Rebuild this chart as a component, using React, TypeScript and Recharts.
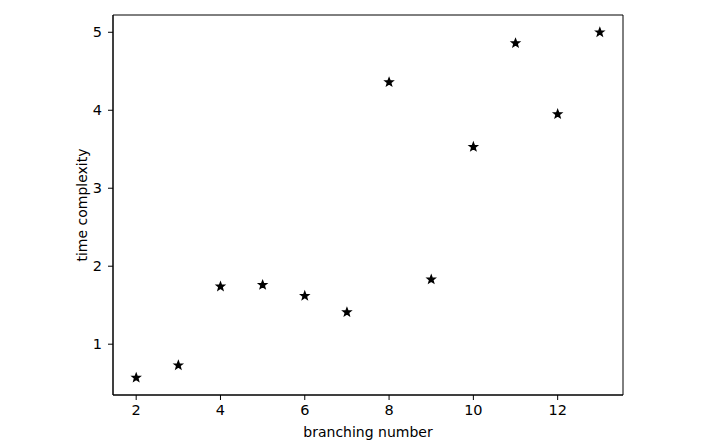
import React from 'react';
import { ScatterChart, Scatter, XAxis, YAxis, ReferenceArea } from 'recharts';

const branchingNumbers = [2, 3, 4, 5, 6, 7, 8, 9, 10, 11, 12, 13];
const timeComplexity = [0.57, 0.73, 1.74, 1.76, 1.62, 1.41, 4.36, 1.83, 3.53, 4.86, 3.95, 5.0];
const xTicks = [2, 4, 6, 8, 10, 12];
const yTicks = [1, 2, 3, 4, 5];
const xDomain = [1.45, 13.55];
const yDomain = [0.3485, 5.2215];

const data = branchingNumbers.map((x, i) => ({ x, y: timeComplexity[i] }));

const FONT = '"DejaVu Sans", sans-serif';

const Star = (props: any) => {
  const { cx, cy } = props;
  if (cx == null || cy == null) return null;
  const R = 3.9;
  const r = R * 0.42;
  const pts: string[] = [];
  for (let i = 0; i < 10; i++) {
    const rad = i % 2 === 0 ? R : r;
    const a = -Math.PI / 2 + (i * Math.PI) / 5;
    pts.push(`${cx + rad * Math.cos(a)},${cy + rad * Math.sin(a)}`);
  }
  return <polygon points={pts.join(' ')} fill="#000" stroke="#000" strokeWidth={1.5} strokeLinejoin="miter" />;
};

const XLabel = (props: any) => {
  const vb = props.viewBox || {};
  return (
    <text x={vb.x + vb.width / 2} y={436.5} textAnchor="middle" fontFamily={FONT} fontSize={14} fill="#000">
      branching number
    </text>
  );
};

const YLabel = (props: any) => {
  const vb = props.viewBox || {};
  const cx = 86.5;
  const cy = vb.y + vb.height / 2;
  return (
    <text x={cx} y={cy} transform={`rotate(-90 ${cx} ${cy})`} textAnchor="middle" fontFamily={FONT} fontSize={14} fill="#000">
      time complexity
    </text>
  );
};

export default function App() {
  const tickStyle = { fontFamily: FONT, fontSize: 14.5, fill: '#000' };
  return (
    <div style={{ position: 'absolute', left: 0, top: 0, width: 704, height: 447, background: '#fff' }}>
      <ScatterChart width={704} height={447} margin={{ top: 15, right: 81, bottom: 0, left: 0 }}>
        <XAxis
          type="number"
          dataKey="x"
          domain={xDomain}
          ticks={xTicks}
          height={52}
          tickSize={5}
          tickMargin={5}
          tick={tickStyle}
          axisLine={{ stroke: '#000', strokeWidth: 1 }}
          tickLine={{ stroke: '#000', strokeWidth: 1 }}
          allowDataOverflow
          label={<XLabel />}
        />
        <YAxis
          type="number"
          dataKey="y"
          domain={yDomain}
          ticks={yTicks}
          width={113}
          tickSize={5}
          tickMargin={6}
          tick={tickStyle}
          axisLine={{ stroke: '#000', strokeWidth: 1 }}
          tickLine={{ stroke: '#000', strokeWidth: 1 }}
          allowDataOverflow
          label={<YLabel />}
        />
        <ReferenceArea
          x1={xDomain[0]}
          x2={xDomain[1]}
          y1={yDomain[0]}
          y2={yDomain[1]}
          fill="none"
          fillOpacity={0}
          stroke="#000"
          strokeWidth={1}
          strokeOpacity={1}
        />
        <Scatter data={data} shape={<Star />} isAnimationActive={false} />
      </ScatterChart>
    </div>
  );
}
